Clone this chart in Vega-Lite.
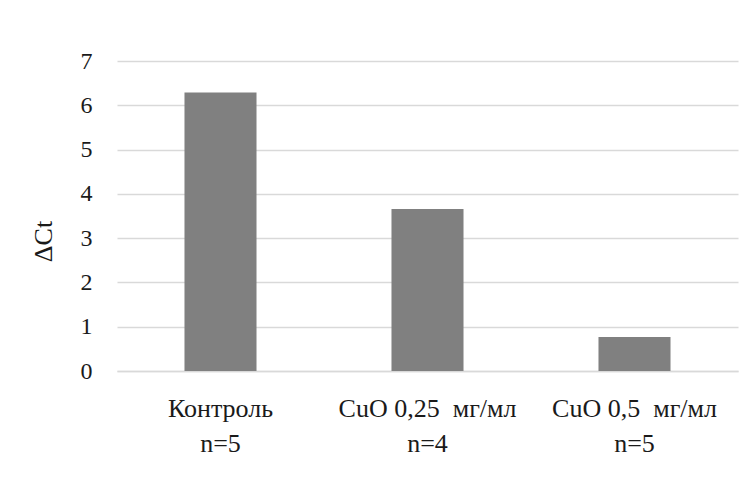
{
  "$schema": "https://vega.github.io/schema/vega-lite/v6.json",
  "width": 621,
  "height": 310,
  "autosize": {"type": "none"},
  "padding": {"left": 117, "top": 61, "right": 14, "bottom": 110},
  "background": "white",
  "config": {"view": {"stroke": null}, "font": "Times New Roman, Liberation Serif, serif"},
  "data": {"values": [
    {"group": "Контроль|n=5", "dct": 6.29},
    {"group": "CuO 0,25 \u00a0мг/мл|n=4", "dct": 3.66},
    {"group": "CuO 0,5 \u00a0мг/мл|n=5", "dct": 0.77}
  ]},
  "mark": {"type": "bar", "color": "#808080"},
  "encoding": {
    "x": {
      "field": "group", "type": "nominal", "sort": null,
      "scale": {"paddingInner": 0.652, "paddingOuter": 0.326},
      "axis": {
        "title": null, "labelAngle": 0, "ticks": false,
        "domainColor": "#d9d9d9", "domainWidth": 1.5,
        "labelExpr": "split(datum.label, '|')",
        "labelFont": "Times New Roman, Liberation Serif, serif", "labelFontSize": 26, "labelColor": "#1a1a1a",
        "labelLineHeight": 35, "labelPadding": 24, "labelLimit": 300
      }
    },
    "y": {
      "field": "dct", "type": "quantitative",
      "scale": {"domain": [0, 7]},
      "axis": {
        "title": "ΔCt", "titleFont": "Times New Roman, Liberation Serif, serif", "titleFontSize": 26,
        "titleFontWeight": "normal", "titleColor": "#1a1a1a", "titlePadding": 24, "titleY": 180,
        "values": [0, 1, 2, 3, 4, 5, 6, 7], "domain": false, "ticks": false,
        "gridColor": "#d9d9d9", "gridWidth": 1.5,
        "labelFont": "Times New Roman, Liberation Serif, serif", "labelFontSize": 24, "labelColor": "#1a1a1a",
        "labelPadding": 25
      }
    }
  }
}
